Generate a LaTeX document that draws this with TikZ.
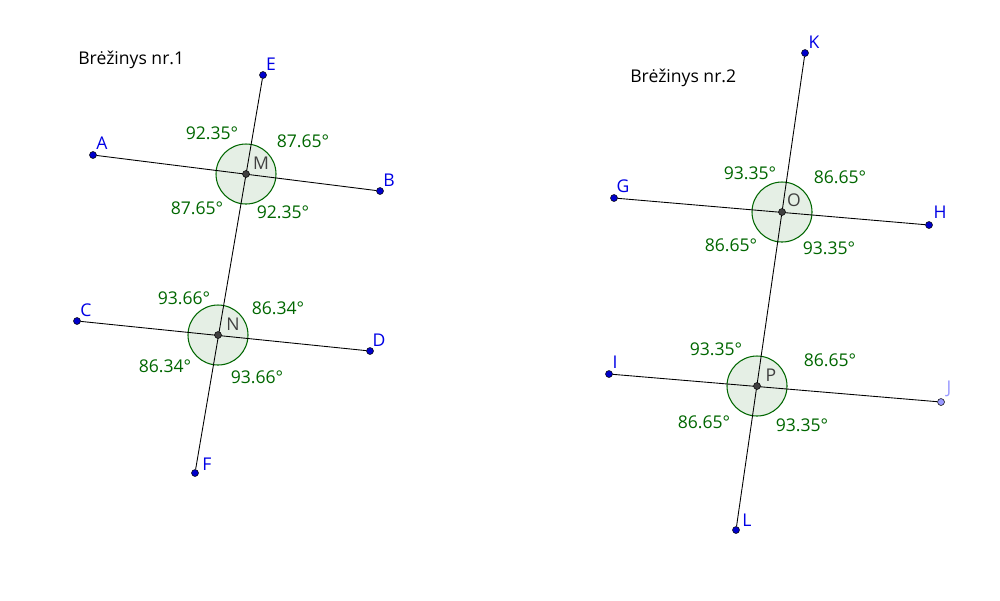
\documentclass[tikz,border=0pt]{standalone}
\usepackage{fontspec}
\setmainfont{Open Sans}
\begin{document}
\begin{tikzpicture}[x=0.02cm,y=-0.02cm,
  ln/.style={black,line width=0.5pt},
  ang/.style={draw=green!40!black,fill=green!40!black,fill opacity=0.1,line width=0.6pt},
  pt/.style={circle,fill=blue!80!black,draw=black,line width=0.3pt,inner sep=1.4pt},
  ipt/.style={circle,fill=darkgray,draw=black,line width=0.3pt,inner sep=1.4pt},
  lb/.style={text=blue!90!black,font=\fontsize{10}{12}\selectfont},
  al/.style={text=green!40!black,font=\fontsize{10}{12}\selectfont},
  il/.style={text=darkgray,font=\fontsize{10}{12}\selectfont}]
\useasboundingbox (0,0) rectangle (1000,600);
% circles
\foreach \p in {(246,174),(218,335),(782,212),(757,386)} \draw[ang] \p circle (30);
% points
\node[pt] (A) at (93,155) {}; \node[pt] (B) at (380,191) {};
\node[pt] (E) at (263,75) {}; \node[pt] (F) at (195,473) {};
\node[pt] (C) at (77,321) {}; \node[pt] (D) at (370,351) {};
\node[pt] (G) at (614,198) {}; \node[pt] (H) at (929,225) {};
\node[pt] (K) at (805,53) {}; \node[pt] (L) at (736,530) {};
\node[pt] (I) at (609,374) {}; \node[pt,fill=blue!40] (J) at (941,402) {};
\draw[ln] (A)--(B); \draw[ln] (C)--(D); \draw[ln] (E)--(F);
\draw[ln] (G)--(H); \draw[ln] (I)--(J); \draw[ln] (K)--(L);
\node[ipt] (M) at (246,174) {}; \node[ipt] (N) at (218,335) {};
\node[ipt] (O) at (782,212) {}; \node[ipt] (P) at (757,386) {};
% labels
\node[lb] at (102,143) {A}; \node[lb] at (389,180) {B}; \node[lb] at (271,64) {E};
\node[lb] at (207,464) {F}; \node[lb] at (86,310) {C}; \node[lb] at (379,340) {D};
\node[lb] at (814,42) {K}; \node[lb] at (623,186) {G}; \node[lb] at (940,212) {H};
\node[lb] at (615,362) {I}; \node[lb,text=blue!40] at (949,389) {J}; \node[lb] at (747,520) {L};
\node[il] at (261,163) {M}; \node[il] at (233,324) {N}; \node[il] at (794,200) {O}; \node[il] at (771,375) {P};
\node[al] at (212,133) {92.35°}; \node[al] at (303,141) {87.65°};
\node[al] at (197,208) {87.65°}; \node[al] at (283,212) {92.35°};
\node[al] at (184,298) {93.66°}; \node[al] at (278,308) {86.34°};
\node[al] at (165,366) {86.34°}; \node[al] at (257,377) {93.66°};
\node[al] at (750,173) {93.35°}; \node[al] at (840,177) {86.65°};
\node[al] at (731,245) {86.65°}; \node[al] at (829,248) {93.35°};
\node[al] at (716,349) {93.35°}; \node[al] at (830,360) {86.65°};
\node[al] at (704,422) {86.65°}; \node[al] at (802,425) {93.35°};
\node[anchor=west,inner sep=0pt,font=\fontsize{10}{12}\selectfont] at (78,60) {Brėžinys nr.1};
\node[anchor=west,inner sep=0pt,font=\fontsize{10}{12}\selectfont] at (630,78) {Brėžinys nr.2};
\end{tikzpicture}
\end{document}
